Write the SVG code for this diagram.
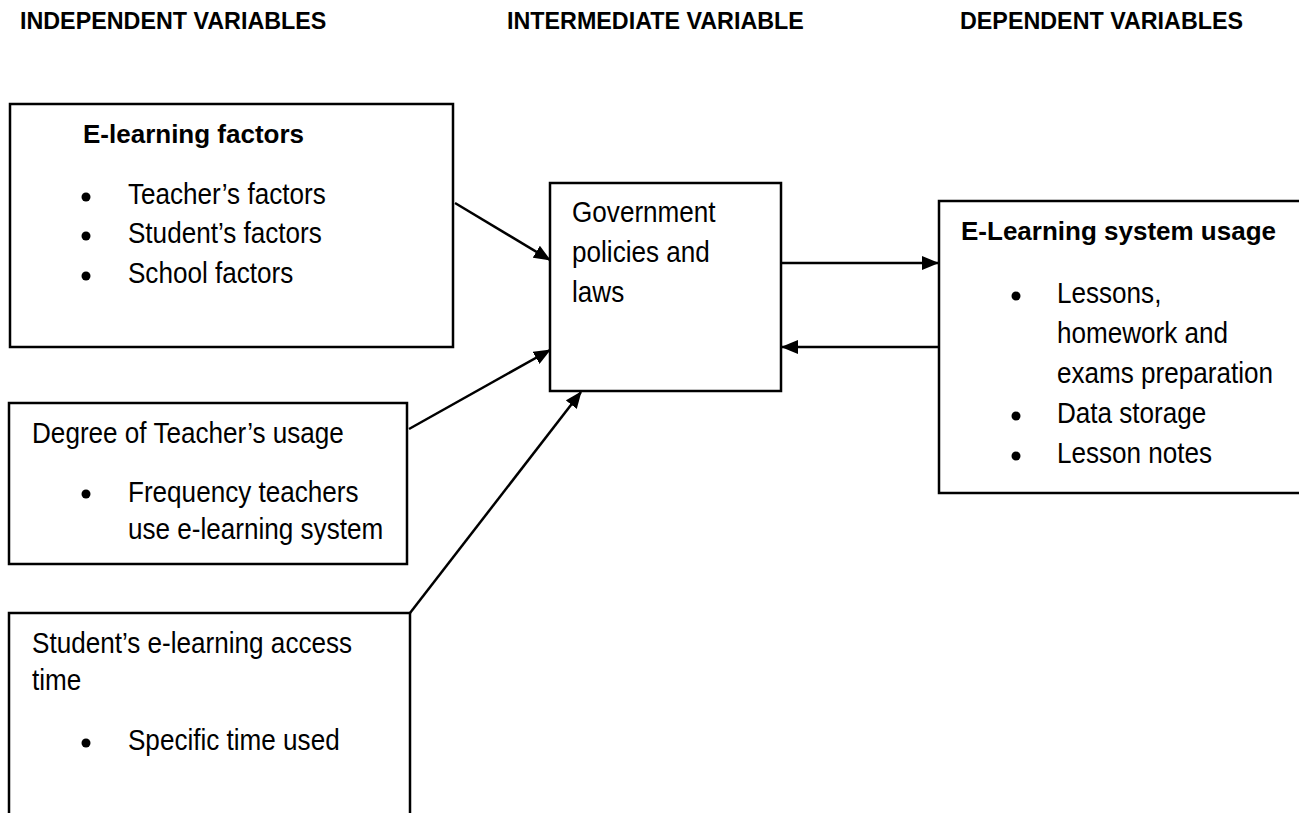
<svg xmlns="http://www.w3.org/2000/svg" width="1299" height="813" viewBox="0 0 1299 813">
<defs>
<style>
.hdr{font-family:"Liberation Sans",Arial,sans-serif;font-weight:bold;font-size:23.3px;fill:#000}
.ttl{font-family:"Liberation Sans",Arial,sans-serif;font-weight:bold;font-size:26px;fill:#000}
.txt{font-family:"Liberation Sans",Arial,sans-serif;font-size:29px;fill:#000}
.box{fill:#fff;stroke:#000;stroke-width:2.5}
.con{fill:none;stroke:#000;stroke-width:2.5}
.bul{fill:#000}
</style>
<marker id="ah" markerUnits="userSpaceOnUse" markerWidth="17" markerHeight="14" refX="16" refY="7" orient="auto">
<path d="M0,0 L17,7 L0,14 z" fill="#000"/>
</marker>
</defs>
<rect width="1299" height="813" fill="#fff"/>
<g id="headers">
<text class="hdr" x="20" y="29">INDEPENDENT VARIABLES</text>
<text class="hdr" x="507" y="29">INTERMEDIATE VARIABLE</text>
<text class="hdr" x="960" y="29">DEPENDENT VARIABLES</text>
</g>
<g id="connectors">
<line class="con" x1="455" y1="203" x2="550" y2="260" marker-end="url(#ah)"/>
<line class="con" x1="409" y1="429" x2="550" y2="350" marker-end="url(#ah)"/>
<line class="con" x1="410" y1="613" x2="581" y2="392" marker-end="url(#ah)"/>
<line class="con" x1="781" y1="263" x2="938" y2="263" marker-end="url(#ah)"/>
<line class="con" x1="939" y1="347" x2="782" y2="347" marker-end="url(#ah)"/>
</g>
<g id="elearning-factors">
<rect class="box" x="10" y="104" width="443" height="243"/>
<text class="ttl" x="83" y="143">E-learning factors</text>
<circle class="bul" cx="86" cy="197" r="4.5"/>
<circle class="bul" cx="86" cy="236" r="4.5"/>
<circle class="bul" cx="86" cy="276" r="4.5"/>
<g transform="scale(0.9,1)">
<text class="txt" x="142.2" y="204">Teacher’s factors</text>
<text class="txt" x="142.2" y="243">Student’s factors</text>
<text class="txt" x="142.2" y="283">School factors</text>
</g>
</g>
<g id="teacher-usage">
<rect class="box" x="9" y="403" width="398" height="161"/>
<circle class="bul" cx="86" cy="494" r="4.5"/>
<g transform="scale(0.9,1)">
<text class="txt" x="35.6" y="443">Degree of Teacher’s usage</text>
<text class="txt" x="142.2" y="502">Frequency teachers</text>
<text class="txt" x="142.2" y="539">use e-learning system</text>
</g>
</g>
<g id="student-access">
<rect class="box" x="9" y="613" width="401" height="260"/>
<circle class="bul" cx="86" cy="743" r="4.5"/>
<g transform="scale(0.9,1)">
<text class="txt" x="35.6" y="653">Student’s e-learning access</text>
<text class="txt" x="35.6" y="690">time</text>
<text class="txt" x="142.2" y="750">Specific time used</text>
</g>
</g>
<g id="government">
<rect class="box" x="550" y="183" width="231" height="208"/>
<g transform="scale(0.9,1)">
<text class="txt" x="635.6" y="222">Government</text>
<text class="txt" x="635.6" y="262">policies and</text>
<text class="txt" x="635.6" y="302">laws</text>
</g>
</g>
<g id="system-usage">
<rect class="box" x="939" y="201" width="420" height="292"/>
<text class="ttl" x="961" y="240">E-Learning system usage</text>
<circle class="bul" cx="1016" cy="296" r="4.5"/>
<circle class="bul" cx="1016" cy="416" r="4.5"/>
<circle class="bul" cx="1016" cy="456" r="4.5"/>
<g transform="scale(0.9,1)">
<text class="txt" x="1174.4" y="303">Lessons,</text>
<text class="txt" x="1174.4" y="343">homework and</text>
<text class="txt" x="1174.4" y="383">exams preparation</text>
<text class="txt" x="1174.4" y="423">Data storage</text>
<text class="txt" x="1174.4" y="463">Lesson notes</text>
</g>
</g>
</svg>
